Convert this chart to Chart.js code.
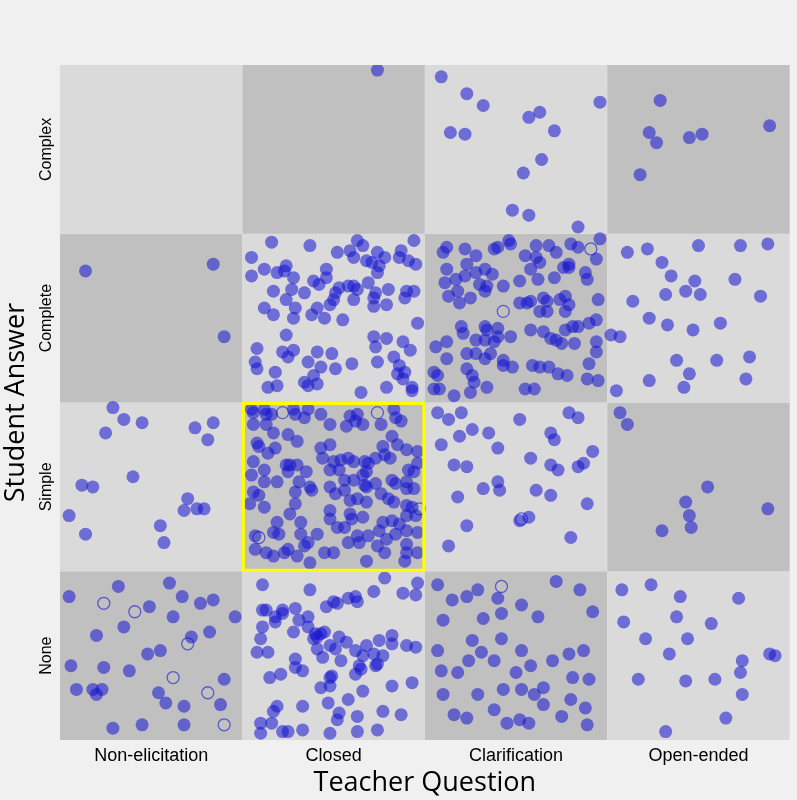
<!DOCTYPE html>
<html><head><meta charset="utf-8">
<script src="https://cdn.jsdelivr.net/npm/chart.js@4"></script>
<style>html,body{margin:0;padding:0;background:#f0f0f0;}canvas{display:block;}</style>
</head><body>
<canvas id="c" width="797" height="800"></canvas>
<script>
const teacherCategories = ["Non-elicitation","Closed","Clarification","Open-ended"];
const studentCategories = ["None","Simple","Complete","Complex"];

// Points per cell: [percent across cell, percent up cell]
const closedComplex = [[74,97]];
const clarComplex = [[9,93],[23,83],[32,76],[14,60],[22,59],[57,69],[63,72],[71,61],[96,78],[64,44],[54,36],[48,14],[57,11],[84,4]];
const openComplex = [[29,79],[23,60],[27,54],[45,57],[52,59],[89,64],[18,35]];
const nonComplete = [[14,78],[84,82],[90,39]];
const closedComplete = [[16,95],[37,93],[63,96],[66,93],[94,96],[5,86],[52,89],[59,90],[61,86],[68,84],[71,83],[74,89],[78,86],[75,81],[74,77],[87,90],[86,86],[91,84],[95,82],[12,79],[19,77],[23,78],[24,81],[28,74],[5,75],[46,79],[46,74],[39,72],[42,70],[17,66],[27,67],[34,65],[24,61],[53,68],[51,65],[50,61],[58,69],[61,69],[63,67],[69,71],[73,65],[72,62],[80,67],[90,66],[94,66],[89,62],[12,56],[17,52],[29,56],[28,50],[38,52],[41,56],[48,58],[45,50],[55,49],[61,61],[72,57],[79,58],[96,47],[24,40],[8,32],[7,24],[8,20],[22,30],[25,27],[28,31],[36,24],[41,30],[49,29],[43,21],[51,20],[60,23],[39,16],[34,12],[36,10],[41,11],[18,18],[14,9],[19,10],[65,6],[72,39],[79,38],[73,33],[74,24],[88,36],[92,31],[83,27],[86,22],[85,17],[89,18],[88,14],[79,9],[93,9],[93,7]];
const clarComplete = [[12,92],[10,89],[22,91],[28,87],[38,91],[40,92],[46,96],[47,94],[61,93],[68,93],[72,89],[80,94],[84,92],[96,97],[94,85],[55,87],[61,86],[63,83],[58,79],[62,73],[71,74],[76,80],[79,82],[79,80],[88,77],[89,73],[12,79],[23,82],[22,75],[28,77],[33,79],[37,76],[11,71],[17,73],[18,66],[13,63],[19,59],[25,62],[30,70],[34,69],[33,66],[43,69],[52,72],[52,59],[56,59],[58,60],[65,62],[67,60],[63,54],[67,54],[74,61],[77,63],[79,58],[77,54],[95,61],[20,45],[21,41],[33,45],[34,43],[40,44],[28,37],[33,37],[38,36],[40,39],[47,39],[58,43],[65,42],[69,38],[72,37],[77,43],[81,45],[84,45],[90,47],[94,49],[6,33],[12,36],[23,29],[28,29],[36,29],[33,26],[43,25],[43,22],[48,21],[59,22],[63,21],[68,21],[73,17],[78,16],[82,35],[75,35],[94,36],[94,30],[90,23],[12,26],[5,18],[7,16],[23,20],[26,16],[27,12],[34,9],[25,6],[5,8],[8,8],[16,4],[55,8],[60,8],[89,14],[95,13]];
const openComplete = [[2,40],[7,39],[11,89],[22,91],[30,83],[35,75],[50,93],[73,93],[88,94],[70,73],[84,63],[14,60],[32,64],[43,66],[48,72],[51,64],[23,50],[33,46],[47,43],[62,47],[38,25],[60,25],[78,27],[45,17],[5,7],[23,13],[42,9],[76,14]];
const nonSimple = [[29,97],[35,90],[25,82],[45,88],[74,85],[84,88],[81,78],[12,51],[18,50],[40,56],[70,43],[68,36],[5,33],[55,27],[75,37],[79,37],[57,17],[14,22]];
const closedSimple = [[5,96],[6,94],[12,96],[13,93],[16,93],[28,96],[29,93],[36,96],[34,91],[43,93],[48,87],[59,92],[63,93],[62,89],[57,86],[66,87],[83,96],[84,91],[87,89],[76,87],[6,87],[13,87],[17,82],[25,81],[30,77],[8,76],[9,74],[14,70],[18,73],[43,73],[48,75],[44,67],[50,65],[54,66],[58,67],[61,65],[67,65],[69,64],[73,67],[77,74],[78,69],[82,80],[85,75],[90,72],[96,71],[81,67],[96,64],[6,65],[12,60],[5,57],[24,63],[26,63],[30,63],[35,59],[25,59],[19,53],[12,53],[31,53],[37,50],[38,48],[48,60],[53,60],[56,54],[61,54],[66,57],[68,59],[67,51],[68,50],[73,52],[82,54],[84,52],[91,60],[94,59],[90,53],[94,49],[90,49],[6,47],[9,45],[4,40],[12,38],[29,47],[48,50],[51,46],[56,48],[59,42],[63,43],[68,41],[76,46],[80,43],[83,41],[90,39],[93,38],[29,40],[26,34],[32,29],[19,29],[17,23],[20,22],[7,21],[7,13],[13,11],[17,9],[23,11],[25,13],[32,22],[34,15],[36,17],[41,22],[48,36],[48,31],[52,26],[56,26],[59,34],[60,31],[66,32],[63,21],[64,17],[69,21],[75,24],[77,29],[82,30],[86,28],[90,33],[95,33],[79,19],[84,22],[90,24],[96,23],[74,15],[78,11],[90,16],[90,11],[96,11],[89,6],[30,9],[37,5],[45,11],[50,11],[58,17],[68,6]];
const clarSimple = [[7,94],[20,94],[13,90],[26,84],[35,82],[52,90],[79,94],[84,91],[9,75],[19,80],[69,82],[71,78],[16,63],[23,62],[40,73],[58,67],[87,64],[92,71],[40,53],[69,63],[73,60],[84,62],[18,44],[32,49],[41,48],[61,48],[69,45],[23,27],[52,30],[57,32],[89,40],[13,15],[80,20]];
const openSimple = [[7,94],[11,87],[55,50],[43,41],[45,33],[30,24],[46,26],[88,37]];
const nonNone = [[5,85],[32,91],[60,93],[67,85],[49,79],[62,73],[77,81],[84,83],[96,73],[20,62],[35,67],[48,51],[55,53],[72,61],[82,64],[6,44],[24,43],[38,41],[90,36],[9,30],[18,30],[20,27],[23,30],[54,28],[58,22],[68,20],[29,7],[45,9],[68,9],[88,21]];
const closedNone = [[11,92],[37,89],[78,96],[96,93],[72,88],[88,87],[95,86],[46,79],[50,82],[52,81],[58,84],[62,85],[63,82],[11,77],[13,77],[18,73],[22,77],[22,75],[29,78],[18,70],[31,71],[36,73],[36,67],[11,67],[28,64],[40,63],[43,63],[45,64],[39,60],[41,61],[10,60],[53,61],[57,58],[41,54],[48,56],[51,54],[8,52],[14,52],[44,49],[54,47],[62,53],[68,56],[66,50],[72,51],[77,50],[75,59],[82,62],[82,57],[90,56],[95,55],[29,48],[29,43],[33,41],[64,44],[65,42],[73,44],[74,45],[62,39],[15,37],[21,39],[48,37],[49,38],[48,32],[43,31],[66,29],[82,32],[93,34],[58,24],[33,20],[47,22],[19,20],[17,17],[53,16],[52,12],[63,14],[77,17],[87,15],[10,10],[16,10],[10,4],[22,5],[25,5],[33,6],[48,4],[63,5],[74,6]];
const clarNone = [[7,92],[15,83],[23,85],[29,89],[40,84],[53,80],[72,94],[85,89],[92,76],[10,71],[32,72],[42,75],[62,73],[7,53],[26,59],[31,52],[42,60],[38,47],[53,53],[58,44],[70,47],[79,51],[87,53],[9,41],[18,40],[24,47],[50,40],[65,31],[81,37],[90,36],[10,27],[29,27],[43,30],[53,30],[60,27],[65,21],[80,24],[88,19],[16,15],[23,13],[38,18],[45,10],[52,12],[57,10],[75,14],[89,9]];
const openNone = [[8,89],[24,92],[40,85],[9,70],[21,60],[38,73],[44,60],[57,69],[72,84],[34,51],[74,47],[89,51],[92,50],[17,36],[43,35],[59,36],[73,40],[74,27],[65,13],[32,5]];

// Hollow (open) markers: [column, row, percent across, percent up]
const hollowPoints = [[0,0,24,81],[0,0,41,76],[0,0,70,57],[0,0,62,37],[0,0,81,28],[0,0,90,9],
  [1,1,22,94],[1,1,74,94],[1,1,97,37],[1,1,9,20],
  [2,1,53,31],[2,2,91,91],[2,2,43,54],[2,0,42,91]];

const cells = [
  [1,3,closedComplex],[2,3,clarComplex],[3,3,openComplex],
  [0,2,nonComplete],[1,2,closedComplete],[2,2,clarComplete],[3,2,openComplete],
  [0,1,nonSimple],[1,1,closedSimple],[2,1,clarSimple],[3,1,openSimple],
  [0,0,nonNone],[1,0,closedNone],[2,0,clarNone],[3,0,openNone]
];
const filled = [];
cells.forEach(([c,r,pts]) => pts.forEach(([u,v]) => filled.push({x:c+u/100, y:r+v/100})));
const hollow = hollowPoints.map(([c,r,u,v]) => ({x:c+u/100, y:r+v/100}));

const cellPlugin = {
  id:'cells',
  beforeDatasetsDraw(chart){
    const {ctx, scales:{x,y}} = chart;
    ctx.save();
    for(let c=0;c<4;c++) for(let r=0;r<4;r++){
      const x0=x.getPixelForValue(c), x1=x.getPixelForValue(c+1);
      const y0=y.getPixelForValue(r+1), y1=y.getPixelForValue(r);
      ctx.fillStyle = ((c+r)%2===0) ? '#c0c0c0' : '#dadada';
      ctx.fillRect(x0,y0,x1-x0,y1-y0);
    }
    ctx.restore();
  },
  afterDatasetsDraw(chart){
    const {ctx, scales:{x,y}} = chart;
    ctx.save();
    ctx.strokeStyle='#ffff00'; ctx.lineWidth=3;
    const x0=x.getPixelForValue(1), x1=x.getPixelForValue(2);
    const y0=y.getPixelForValue(2), y1=y.getPixelForValue(1);
    ctx.strokeRect(x0+1,y0+1,x1-x0-2,y1-y0-2);
    ctx.fillStyle='#000'; ctx.font='16px "Liberation Sans"';
    ctx.textAlign='center'; ctx.textBaseline='middle';
    studentCategories.forEach((lab,i)=>{
      const py=y.getPixelForValue(i+0.5);
      ctx.save(); ctx.translate(47,py); ctx.rotate(-Math.PI/2); ctx.fillText(lab,0,0); ctx.restore();
    });
    ctx.restore();
  }
};

new Chart(document.getElementById('c'), {
  type:'scatter',
  data:{datasets:[
    {data:filled, backgroundColor:'rgba(20,20,210,0.55)', borderWidth:0, pointRadius:6.5, pointHoverRadius:6.5},
    {data:hollow, backgroundColor:'rgba(0,0,0,0)', borderColor:'rgba(20,20,210,0.6)', borderWidth:1.3, pointRadius:6, pointHoverRadius:6}
  ]},
  options:{
    responsive:false, animation:false, events:[],
    layout:{padding:{left:0, top:65, right:7, bottom:0}},
    plugins:{legend:{display:false}, tooltip:{enabled:false}},
    scales:{
      x:{type:'linear', min:0, max:4,
        afterBuildTicks(s){ s.ticks=[0.5,1.5,2.5,3.5].map(v=>({value:v})); },
        afterFit(s){ s.height=60; },
        ticks:{callback:(v)=>teacherCategories[Math.floor(v)], color:'#000', font:{family:'Liberation Sans', size:18}, maxRotation:0, padding:5},
        grid:{display:false, drawTicks:false}, border:{display:false},
        title:{display:true, text:'Teacher Question', color:'#000', font:{family:'Open Sans', size:27}, padding:{top:0,bottom:0}}
      },
      y:{type:'linear', min:0, max:4,
        ticks:{display:false}, grid:{display:false, drawTicks:false}, border:{display:false},
        afterFit(s){ s.width=60; },
        title:{display:true, text:'Student Answer', color:'#000', font:{family:'Open Sans', size:27}, padding:{top:0,bottom:0}}
      }
    }
  },
  plugins:[cellPlugin]
});
</script>
</body></html>
